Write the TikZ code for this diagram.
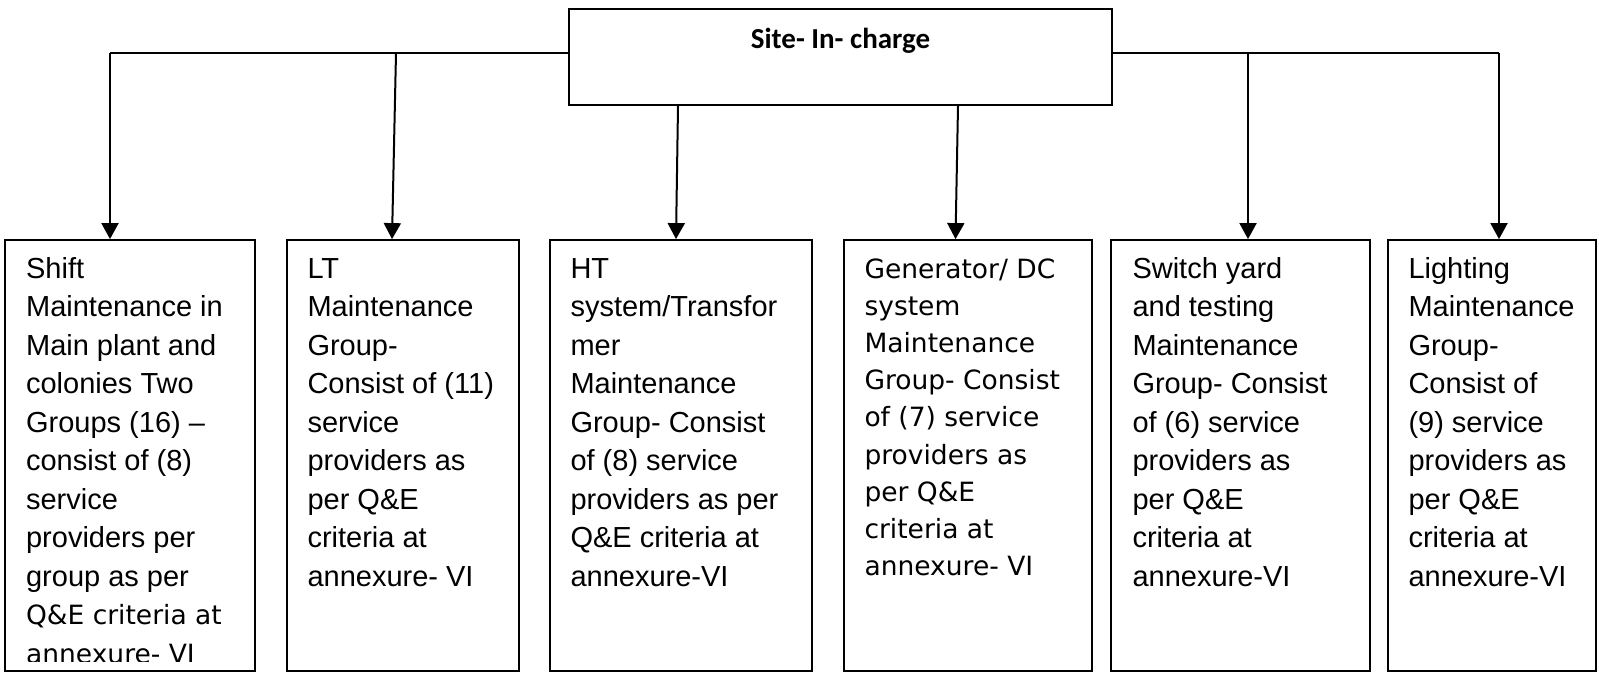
\documentclass[tikz,border=0pt]{standalone}
\usepackage{fontspec}
\setmainfont{Liberation Sans}
\newfontfamily\titlefont{Carlito}
\newfontfamily\verdfont{DejaVu Sans}
\usetikzlibrary{arrows.meta}

% one unit = one pixel of the drawing, y grows downwards
\tikzset{
  x=0.5pt, y=-0.5pt,
  head/.style={draw, line width=0.9pt, inner sep=0pt,
    minimum width=271.5pt, minimum height=48pt},
  grp/.style={draw, line width=0.9pt, inner sep=0pt, minimum height=215.5pt},
  txt/.style={anchor=north west, inner sep=0pt, align=left,
    font=\fontsize{14.5pt}{19.25pt}\selectfont},
  vtxt/.style={anchor=north west, inner sep=0pt, align=left,
    font=\verdfont\fontsize{13.25pt}{18.6pt}\selectfont},
  bus/.style={line width=1pt},
  arr/.style={line width=1pt, -{Triangle[width=8.5pt,length=8pt]}},
}
\newcommand{\firstrule}{\rule{0pt}{19.6pt}}
\newcommand{\vrow}[1]{{\verdfont\fontsize{13.25pt}{19.25pt}\selectfont #1}}

\begin{document}
\begin{tikzpicture}
\useasboundingbox (0,0) rectangle (1599,673);

% head of the site
\node[head] (top) at (840.5,57) {};
\node[anchor=base, inner sep=0pt, font=\titlefont\bfseries\fontsize{14.5pt}{17pt}\selectfont]
  (toplabel) at (840.5,48.5) {Site- In- charge};

% maintenance groups
\node[grp, minimum width=125pt] (b1) at (130,455.5) {};
\node[grp, minimum width=116pt] (b2) at (403,455.5) {};
\node[grp, minimum width=131pt] (b3) at (681,455.5) {};
\node[grp, minimum width=124pt] (b4) at (968,455.5) {};
\node[grp, minimum width=129.5pt] (b5) at (1240.5,455.5) {};
\node[grp, minimum width=104pt] (b6) at (1492,455.5) {};

% group descriptions
\begin{scope}
  \clip (5,240) rectangle (255,661);
  \node[txt] (t1) at ([xshift=10.8pt,yshift=0.3pt]b1.north west)
    {\firstrule Shift\\ Maintenance in\\ Main plant and\\ colonies Two\\
     Groups (16) –\\ consist of (8)\\ service\\ providers per\\ group as per\\
     \vrow{Q\&E criteria at}\\ \vrow{annexure- VI}};
\end{scope}
\node[txt] (t2) at ([xshift=10.5pt,yshift=0.3pt]b2.north west)
  {\firstrule LT\\ Maintenance\\ Group-\\ Consist of (11)\\ service\\
   providers as\\ per Q\&E\\ criteria at\\ annexure- VI};
\node[txt] (t3) at ([xshift=10.5pt,yshift=0.3pt]b3.north west)
  {\firstrule HT\\ system/Transfor\\ mer\\ Maintenance\\ Group- Consist\\
   of (8) service\\ providers as per\\ Q\&E criteria at\\ annexure-VI};
\node[vtxt] (t4) at ([xshift=10.5pt,yshift=0.3pt]b4.north west)
  {\firstrule Generator/ DC\\ system\\ Maintenance\\ Group- Consist\\
   of (7) service\\ providers as\\ per Q\&E\\ criteria at\\ annexure- VI};
\node[txt] (t5) at ([xshift=11pt,yshift=0.3pt]b5.north west)
  {\firstrule Switch yard\\ and testing\\ Maintenance\\ Group- Consist\\
   of (6) service\\ providers as\\ per Q\&E\\ criteria at\\ annexure-VI};
\node[txt] (t6) at ([xshift=10.5pt,yshift=0.3pt]b6.north west)
  {\firstrule Lighting\\ Maintenance\\ Group-\\ Consist of\\ (9) service\\
   providers as\\ per Q\&E\\ criteria at\\ annexure-VI};

% branch points on the two buses
\coordinate (j1) at (110,53);
\coordinate (j2) at (396,53);
\coordinate (j5) at (1248,53);
\coordinate (j6) at (1499,53);

% buses leaving the head box
\draw[bus] ([yshift=2pt]top.west) -- (j1);
\draw[bus] ([yshift=2pt]top.east) -- (j6);

% connectors to each group
\draw[arr] (j1) -- ([xshift=-10pt]b1.north);
\draw[arr] (j2) -- ([xshift=-5.5pt]b2.north);
\draw[arr] ([xshift=-81.25pt]top.south) -- ([xshift=-2.5pt]b3.north);
\draw[arr] ([xshift=58.75pt]top.south) -- ([xshift=-6.25pt]b4.north);
\draw[arr] (j5) -- ([xshift=3.75pt]b5.north);
\draw[arr] (j6) -- ([xshift=3.5pt]b6.north);
\end{tikzpicture}
\end{document}
